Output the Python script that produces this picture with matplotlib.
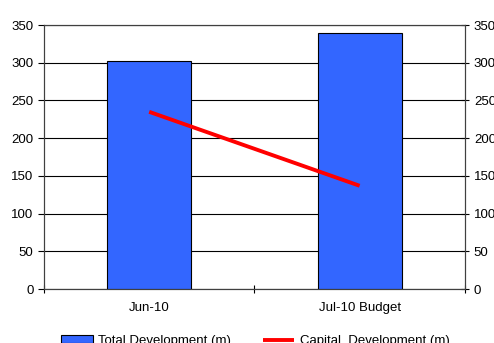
import matplotlib
matplotlib.use("Agg")
import matplotlib.pyplot as plt
from matplotlib.ticker import FixedLocator

plt.rcParams['font.family'] = ['Liberation Sans', 'DejaVu Sans']

# data
categories = ["Jun-10", "Jul-10 Budget"]
total_dev = [302, 340]
capital_dev = [235, 137]
yticks = [0, 50, 100, 150, 200, 250, 300, 350]

fig = plt.figure(figsize=(4.94, 3.43), dpi=100)
ax = fig.add_axes([0.089, 0.157, 0.852, 0.770])

x = list(range(len(categories)))
bars = ax.bar(x, total_dev, width=0.4, color="#3366FF", edgecolor="black",
              linewidth=0.8, zorder=3, label="Total Development (m)")
line, = ax.plot(x, capital_dev, color="#FF0000", linewidth=2.8, zorder=4,
                solid_capstyle="butt", label="Capital  Development (m)")

ax.set_xlim(-0.5, 1.5)
ax.set_ylim(0, 350)
ax.set_yticks(yticks)
ax.yaxis.grid(True, color="black", linewidth=0.8, zorder=0)
ax.set_axisbelow(True)

# category labels, boundary ticks
ax.set_xticks(x)
ax.set_xticklabels(categories, fontsize=9.5)
ax.tick_params(axis="x", which="major", length=0, pad=9)
ax.xaxis.set_minor_locator(FixedLocator([-0.5, 0.5, 1.5]))
ax.tick_params(axis="x", which="minor", direction="inout", length=6, width=0.8)

ax.tick_params(axis="y", labelsize=9.5, direction="out", length=4, width=0.8)

for s in ax.spines.values():
    s.set_color("#404040")
    s.set_linewidth(0.8)

ax2 = ax.twinx()
ax2.set_ylim(0, 350)
ax2.set_yticks(yticks)
ax2.tick_params(axis="y", labelsize=9.5, direction="inout", length=6, width=0.8)
for s in ax2.spines.values():
    s.set_color("#404040")
    s.set_linewidth(0.8)

fig.legend([bars, line], ["Total Development (m)", "Capital  Development (m)"],
           loc="center", bbox_to_anchor=(0.517, 0.006), ncol=2, frameon=False,
           fontsize=9.5, handlelength=2.4, handleheight=0.6, columnspacing=2.4,
           handletextpad=0.4, borderpad=0, borderaxespad=0)

fig.savefig("out.png", dpi=100)
